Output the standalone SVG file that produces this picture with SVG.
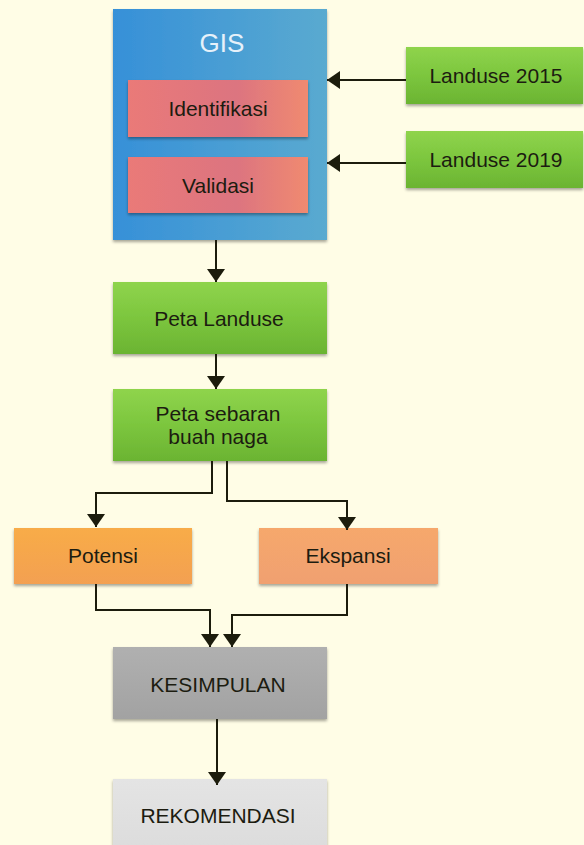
<svg xmlns="http://www.w3.org/2000/svg" width="584" height="845" viewBox="0 0 584 845">
<style>
.t{font-family:"Liberation Sans",Arial,Helvetica,sans-serif;font-size:21px;fill:#1c1c10;text-anchor:middle}
.w{font-family:"Liberation Sans",Arial,sans-serif;font-size:26px;fill:#e6f1fa;text-anchor:middle}
.c{fill:none;stroke:#1c1c0c;stroke-width:2}
</style>
<defs>
<filter id="sh" x="-5%" y="-10%" width="110%" height="130%">
<feDropShadow dx="0" dy="2" stdDeviation="1.5" flood-color="#000" flood-opacity="0.35"/>
</filter>
<linearGradient id="gBlue" x1="0" y1="0" x2="1" y2="0"><stop offset="0" stop-color="#3690d8"/><stop offset="1" stop-color="#5aaad0"/></linearGradient>
<linearGradient id="gPink" x1="0" y1="0" x2="1" y2="0"><stop offset="0" stop-color="#ea7a78"/><stop offset="0.6" stop-color="#dc7480"/><stop offset="1" stop-color="#f08a70"/></linearGradient>
<linearGradient id="gGreen" x1="0" y1="0" x2="0" y2="1"><stop offset="0" stop-color="#8fd44c"/><stop offset="0.5" stop-color="#7cc63e"/><stop offset="1" stop-color="#6bb432"/></linearGradient>
<linearGradient id="gOrange" x1="0" y1="0" x2="0" y2="1"><stop offset="0" stop-color="#f8ac48"/><stop offset="1" stop-color="#f3a052"/></linearGradient>
<linearGradient id="gSalmon" x1="0" y1="0" x2="0" y2="1"><stop offset="0" stop-color="#f6a86c"/><stop offset="1" stop-color="#f0a070"/></linearGradient>
<linearGradient id="gGray" x1="0" y1="0" x2="0" y2="1"><stop offset="0" stop-color="#b0b0b0"/><stop offset="1" stop-color="#a2a2a2"/></linearGradient>
<linearGradient id="gLight" x1="0" y1="0" x2="0" y2="1"><stop offset="0" stop-color="#e4e4e4"/><stop offset="1" stop-color="#dcdcdc"/></linearGradient>
<marker id="ah" viewBox="0 0 13 18" refX="13" refY="9" markerWidth="13" markerHeight="18" markerUnits="userSpaceOnUse" orient="auto">
<path d="M0,0 L13,9 L0,18 z" fill="#1c1c0c"/>
</marker>
</defs>
<rect width="584" height="845" fill="#fffde6"/>
<g id="gis">
<rect x="113" y="9" width="214" height="231" fill="url(#gBlue)" filter="url(#sh)"/>
<text class="w" x="222" y="52">GIS</text>
</g>
<g id="identifikasi">
<rect x="128" y="80" width="180" height="57" fill="url(#gPink)" filter="url(#sh)"/>
<text class="t" x="218" y="116">Identifikasi</text>
</g>
<g id="validasi">
<rect x="128" y="157" width="180" height="56" fill="url(#gPink)" filter="url(#sh)"/>
<text class="t" x="218" y="192.5">Validasi</text>
</g>
<g id="landuse2015">
<rect x="406" y="47" width="177" height="57" fill="url(#gGreen)" filter="url(#sh)"/>
<text class="t" x="496" y="82.5">Landuse 2015</text>
</g>
<g id="landuse2019">
<rect x="406" y="131" width="177" height="57" fill="url(#gGreen)" filter="url(#sh)"/>
<text class="t" x="496" y="166.5">Landuse 2019</text>
</g>
<g id="peta-landuse">
<rect x="113" y="282" width="214" height="72" fill="url(#gGreen)" filter="url(#sh)"/>
<text class="t" x="219" y="326">Peta Landuse</text>
</g>
<g id="peta-sebaran">
<rect x="113" y="389" width="214" height="72" fill="url(#gGreen)" filter="url(#sh)"/>
<text class="t" x="218" y="421">Peta sebaran</text>
<text class="t" x="218" y="444">buah naga</text>
</g>
<g id="potensi">
<rect x="14" y="528" width="178" height="56" fill="url(#gOrange)" filter="url(#sh)"/>
<text class="t" x="103" y="563">Potensi</text>
</g>
<g id="ekspansi">
<rect x="259" y="528" width="179" height="56" fill="url(#gSalmon)" filter="url(#sh)"/>
<text class="t" x="348" y="563">Ekspansi</text>
</g>
<g id="kesimpulan">
<rect x="113" y="647" width="214" height="72" fill="url(#gGray)" filter="url(#sh)"/>
<text class="t" x="218" y="692">KESIMPULAN</text>
</g>
<g id="rekomendasi">
<rect x="113" y="779" width="214" height="72" fill="url(#gLight)" filter="url(#sh)"/>
<text class="t" x="218" y="823">REKOMENDASI</text>
</g>
<g id="connectors">
<path class="c" d="M406,80 H327" marker-end="url(#ah)"/>
<path class="c" d="M406,163 H327" marker-end="url(#ah)"/>
<path class="c" d="M216,240 V282" marker-end="url(#ah)"/>
<path class="c" d="M216,354 V389" marker-end="url(#ah)"/>
<path class="c" d="M212,461 V493 H96 V527" marker-end="url(#ah)"/>
<path class="c" d="M227,461 V501 H347 V530" marker-end="url(#ah)"/>
<path class="c" d="M96,584 V610 H210 V647" marker-end="url(#ah)"/>
<path class="c" d="M347,584 V615 H232 V647" marker-end="url(#ah)"/>
<path class="c" d="M217,719 V785" marker-end="url(#ah)"/>
</g>
</svg>
